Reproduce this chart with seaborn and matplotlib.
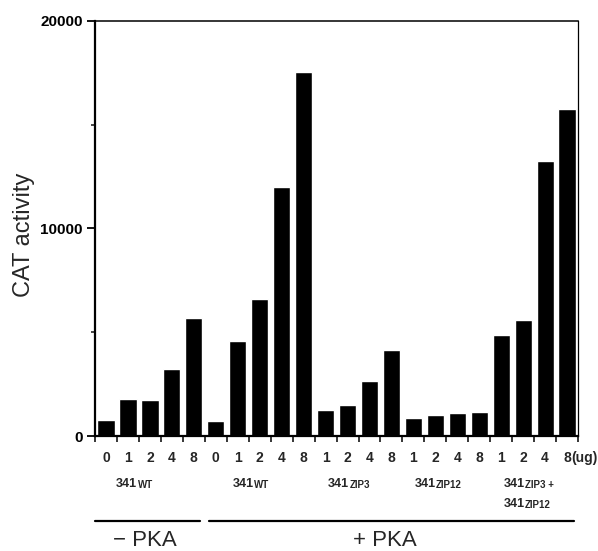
import matplotlib.pyplot as plt
import matplotlib.transforms as mtransforms
import pandas as pd
import seaborn as sns

# Dose (ug) of each lane and the CAT activity measured for it
doses = ["0", "1", "2", "4", "8",
         "0", "1", "2", "4", "8",
         "1", "2", "4", "8",
         "1", "2", "4", "8",
         "1", "2", "4", "8"]
activity = [750, 1800, 1750, 3250, 5700,
            700, 4600, 6600, 12000, 17550,
            1250, 1500, 2650, 4150,
            850, 1000, 1100, 1150,
            4850, 5600, 13250, 15750]

# construct names under the dose labels: (main text, small-caps suffix)
construct_main = ["341", "341", "341", "341", "341", "341"]
construct_sub = ["WT", "WT", "ZIP3", "ZIP12", "ZIP3 +", "ZIP12"]
# where each name starts (lane units) and which text row it sits on
construct_x = [0.45, 5.77, 10.1, 14.05, 18.1, 18.1]
construct_row = [0, 0, 0, 0, 0, 1]

# treatment brackets
pka_labels = ["\u2212 PKA", "+ PKA"]
pka_start = [-0.5, 4.68]
pka_end = [4.27, 21.3]
pka_text_x = [1.77, 12.7]

df = pd.DataFrame({"lane": [str(i) for i in range(len(doses))],
                   "activity": activity})

sns.set_style("ticks")
plt.rcParams["font.family"] = ["Liberation Sans", "DejaVu Sans"]

fig = plt.figure(figsize=(5.98, 5.51), dpi=100)
ax = fig.add_axes([0.159, 0.2087, 0.8076, 0.7532])

sns.barplot(data=df, x="lane", y="activity", color="black", width=0.78,
            saturation=1, ax=ax)
ax.set_xlim(-0.5, len(doses) - 0.5)
ax.set_ylim(0, 20000)

# y axis: labelled ticks at 0/10000/20000, short minor ticks between
ax.set_yticks([0, 10000, 20000])
ax.set_yticklabels(["0", "10000", "20000"], fontsize=11, fontweight="bold")
ax.set_yticks([5000, 15000], minor=True)
ax.tick_params(axis="y", which="major", length=6, width=1.3, pad=3, colors="black")
ax.tick_params(axis="y", which="minor", length=3, width=1.2)

# x axis: dose labels under the bars, tick marks between the bars
x_pad = 10.5
ax.set_xticks(range(len(doses)))
ax.set_xticklabels(doses, fontsize=10, fontweight="bold")
ax.set_xticks([i - 0.5 for i in range(len(doses) + 1)], minor=True)
ax.tick_params(axis="x", which="major", length=0, pad=x_pad)
ax.tick_params(axis="x", which="minor", length=4, width=1.3)
unit_trans = ax.get_xaxis_transform() + mtransforms.ScaledTranslation(
    0, -x_pad / 72, fig.dpi_scale_trans)
ax.text(len(doses) - 1 + 0.2, 0, "(ug)", transform=unit_trans,
        fontsize=10, fontweight="bold", ha="left", va="top")

ax.set_xlabel("")
ax.set_ylabel("CAT activity", fontsize=17)
ax.yaxis.set_label_coords(-0.125, 0.484)

for side, lw in [("left", 1.6), ("bottom", 1.6), ("top", 1.1), ("right", 0.9)]:
    ax.spines[side].set_visible(True)
    ax.spines[side].set_linewidth(lw)
    ax.spines[side].set_color("black")

trans = ax.get_xaxis_transform()
row_y = [-0.123, -0.171]
for main, sub, x, row in zip(construct_main, construct_sub, construct_x, construct_row):
    t = ax.text(x, row_y[row], main, transform=trans, fontsize=9,
                fontweight="bold", ha="left", va="baseline")
    ax.annotate(sub, xy=(1, 0), xycoords=t, xytext=(0.4, 0),
                textcoords="offset points", fontsize=7, fontweight="bold",
                ha="left", va="bottom")

for label, x0, x1, xt in zip(pka_labels, pka_start, pka_end, pka_text_x):
    ax.plot([x0, x1], [-0.205, -0.205], color="black", lw=1.6,
            transform=trans, clip_on=False)
    ax.text(xt, -0.266, label, transform=trans, fontsize=16,
            ha="center", va="baseline")

fig.savefig("out.png", dpi=100)
